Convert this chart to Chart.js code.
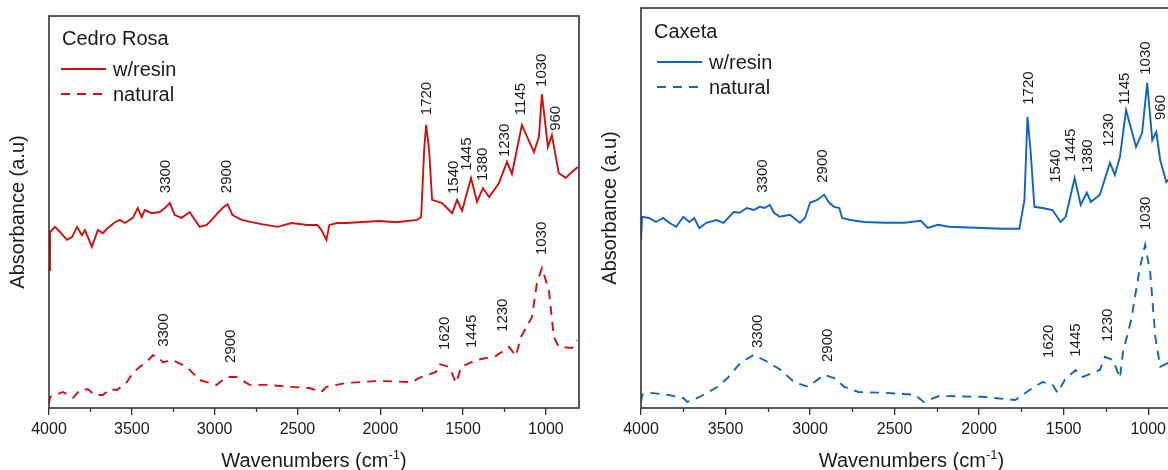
<!DOCTYPE html>
<html>
<head>
<meta charset="utf-8">
<script src="https://cdn.jsdelivr.net/npm/chart.js@4.4.0/dist/chart.umd.min.js"></script>
<style>
  html, body { margin: 0; padding: 0; background: #fff; }
  #contenedor { position: relative; width: 1168px; height: 470px; overflow: hidden; }
  #cedro { position: absolute; left: 0; top: 0; }
  #caxeta { position: absolute; left: 590px; top: 0; }
</style>
</head>
<body>
<div id="contenedor">
  <canvas id="cedro" width="590" height="470"></canvas>
  <canvas id="caxeta" width="610" height="470"></canvas>
</div>
<script>
// espectros (numero de onda en cm-1, absorbancia en u.a.)
const cedroResinaWn = [4000, 3994, 3964, 3934, 3892, 3861, 3831, 3801, 3783, 3741, 3705, 3675, 3645, 3602, 3572, 3542, 3494, 3464, 3440, 3422, 3380, 3331, 3301, 3271, 3241, 3199, 3151, 3120, 3090, 3048, 3018, 2982, 2952, 2922, 2892, 2837, 2777, 2717, 2620, 2536, 2440, 2380, 2355, 2325, 2307, 2259, 2205, 2006, 1904, 1777, 1753, 1735, 1723, 1705, 1687, 1627, 1566, 1536, 1506, 1452, 1416, 1380, 1343, 1283, 1235, 1205, 1145, 1072, 1042, 1024, 988, 964, 922, 880, 843, 807]
const cedroResina = [0.352, 0.449, 0.462, 0.449, 0.429, 0.436, 0.462, 0.441, 0.454, 0.411, 0.454, 0.446, 0.459, 0.474, 0.480, 0.472, 0.485, 0.510, 0.487, 0.505, 0.497, 0.500, 0.510, 0.523, 0.492, 0.485, 0.500, 0.480, 0.462, 0.467, 0.480, 0.497, 0.510, 0.520, 0.492, 0.480, 0.474, 0.469, 0.462, 0.472, 0.467, 0.467, 0.454, 0.429, 0.467, 0.472, 0.472, 0.477, 0.474, 0.480, 0.487, 0.658, 0.722, 0.658, 0.531, 0.523, 0.497, 0.531, 0.503, 0.587, 0.526, 0.561, 0.538, 0.574, 0.628, 0.597, 0.722, 0.653, 0.691, 0.801, 0.666, 0.696, 0.599, 0.587, 0.602, 0.615]

const cedroNaturalWn = [4000, 3994, 3916, 3855, 3813, 3765, 3723, 3675, 3633, 3590, 3530, 3494, 3452, 3410, 3373, 3343, 3313, 3253, 3169, 3090, 2988, 2928, 2867, 2789, 2687, 2548, 2428, 2355, 2325, 2205, 2006, 1807, 1765, 1663, 1645, 1584, 1542, 1512, 1422, 1301, 1223, 1181, 1151, 1084, 1054, 1024, 982, 952, 922, 843, 813]
const cedroNatural = [0.010, 0.028, 0.041, 0.026, 0.046, 0.048, 0.033, 0.033, 0.048, 0.046, 0.066, 0.089, 0.105, 0.117, 0.135, 0.130, 0.117, 0.122, 0.105, 0.071, 0.059, 0.079, 0.079, 0.059, 0.059, 0.054, 0.051, 0.041, 0.054, 0.064, 0.069, 0.066, 0.077, 0.092, 0.112, 0.105, 0.064, 0.105, 0.122, 0.133, 0.156, 0.133, 0.181, 0.232, 0.319, 0.357, 0.301, 0.181, 0.156, 0.153, 0.173]

const caxetaResinaWn = [4000, 3994, 3952, 3911, 3869, 3833, 3792, 3750, 3714, 3685, 3655, 3613, 3554, 3512, 3452, 3417, 3375, 3333, 3298, 3268, 3238, 3214, 3179, 3119, 3060, 3030, 3000, 2958, 2917, 2887, 2857, 2827, 2810, 2762, 2679, 2560, 2441, 2345, 2304, 2244, 2179, 1982, 1863, 1762, 1732, 1714, 1696, 1673, 1625, 1566, 1518, 1488, 1435, 1399, 1363, 1339, 1286, 1226, 1197, 1167, 1131, 1072, 1036, 1006, 976, 952, 929, 893, 863, 822, 800]
const caxetaResina = [0.420, 0.478, 0.475, 0.465, 0.475, 0.463, 0.453, 0.478, 0.465, 0.475, 0.450, 0.463, 0.470, 0.463, 0.490, 0.488, 0.500, 0.495, 0.503, 0.500, 0.508, 0.488, 0.478, 0.483, 0.463, 0.475, 0.513, 0.520, 0.533, 0.513, 0.503, 0.500, 0.475, 0.470, 0.465, 0.463, 0.463, 0.468, 0.450, 0.458, 0.453, 0.450, 0.448, 0.448, 0.520, 0.728, 0.645, 0.503, 0.500, 0.495, 0.465, 0.478, 0.575, 0.508, 0.538, 0.515, 0.533, 0.613, 0.583, 0.628, 0.745, 0.653, 0.688, 0.813, 0.670, 0.690, 0.620, 0.565, 0.578, 0.590, 0.595]

const caxetaNaturalWn = [4000, 3994, 3946, 3845, 3750, 3726, 3667, 3607, 3548, 3488, 3411, 3333, 3250, 3173, 3095, 3012, 2917, 2857, 2798, 2714, 2560, 2381, 2327, 2238, 1982, 1786, 1702, 1625, 1566, 1536, 1494, 1429, 1387, 1286, 1256, 1208, 1167, 1149, 1101, 1048, 1018, 988, 958, 929, 881, 822]
const caxetaNatural = [0.015, 0.033, 0.038, 0.033, 0.025, 0.015, 0.025, 0.038, 0.053, 0.075, 0.113, 0.133, 0.115, 0.095, 0.065, 0.053, 0.083, 0.075, 0.053, 0.040, 0.038, 0.033, 0.015, 0.030, 0.028, 0.020, 0.045, 0.065, 0.058, 0.038, 0.070, 0.095, 0.078, 0.095, 0.128, 0.120, 0.075, 0.140, 0.220, 0.353, 0.408, 0.338, 0.178, 0.103, 0.113, 0.120]

// etiquetas de picos: texto, posicion (cm-1) y altura del pie de la etiqueta
const picosResina = ['3300', '2900', '1720', '1540', '1445', '1380', '1230', '1145', '1030', '960']
const picosNatural = ['3300', '2900', '1620', '1445', '1230', '1030']
const cedroPicosResinaWn = [3295, 2928, 1717, 1554, 1476, 1380, 1247, 1151, 1024, 940]
const cedroPicosResinaY = [0.548, 0.548, 0.747, 0.546, 0.605, 0.579, 0.640, 0.747, 0.819, 0.707]
const cedroPicosNaturalWn = [3307, 2904, 1608, 1446, 1259, 1024]
const cedroPicosNaturalY = [0.156, 0.115, 0.148, 0.153, 0.194, 0.390]
const caxetaPicosResinaWn = [3280, 2923, 1703, 1548, 1458, 1357, 1232, 1137, 1012, 923]
const caxetaPicosResinaY = [0.538, 0.563, 0.758, 0.563, 0.615, 0.588, 0.653, 0.758, 0.833, 0.720]
const caxetaPicosNaturalWn = [3310, 2893, 1589, 1429, 1238, 1012]
const caxetaPicosNaturalY = [0.150, 0.115, 0.125, 0.128, 0.165, 0.445]

// marcas del eje X
const ticksMayores = [4000, 3500, 3000, 2500, 2000, 1500, 1000]
const ticksMenores = [3750, 3250, 2750, 2250, 1750, 1250]

const FUENTE = '"Liberation Sans", Arial, sans-serif'
const TEXTO = '#1a1a1a'
const MARCO = '#333333'

const aPuntos = (wn, valores) => wn.map((x, i) => ({ x, y: valores[i] }))

const armarPicos = (textos, wn, alturas) => textos.map((texto, i) => ({ texto, wn: wn[i], y: alturas[i] }))

// plugin que dibuja marco, leyenda interna, etiquetas de picos y titulos de ejes
const decoracion = {
    id: 'decoracion',
    afterDatasetsDraw(chart, args, opts) {
        const ctx = chart.ctx
        const { left, top, right, bottom } = chart.chartArea
        const escalaX = chart.scales.x
        const escalaY = chart.scales.y
        ctx.save()

        // marco
        ctx.strokeStyle = MARCO
        ctx.lineWidth = 1.6
        ctx.setLineDash([])
        ctx.strokeRect(left, top, right - left, bottom - top)

        // ticks menores
        ctx.lineWidth = 1.3
        ticksMenores.forEach(v => {
            const px = Math.round(escalaX.getPixelForValue(v)) + 0.5
            ctx.beginPath()
            ctx.moveTo(px, bottom)
            ctx.lineTo(px, bottom + 4)
            ctx.stroke()
        })

        // titulo y leyenda
        ctx.fillStyle = TEXTO
        ctx.font = `20px ${FUENTE}`
        ctx.textBaseline = 'middle'
        ctx.textAlign = 'left'
        ctx.fillText(opts.titulo, left + 13, top + opts.dy + 23)

        const lx = left + opts.dx
        const filas = [['w/resin', [], top + opts.dy + 53], ['natural', [9, 7], top + opts.dy + 78]]
        filas.forEach(([texto, dash, fy]) => {
            ctx.strokeStyle = opts.color
            ctx.lineWidth = 2
            ctx.setLineDash(dash)
            ctx.beginPath()
            ctx.moveTo(lx, fy)
            ctx.lineTo(lx + 45, fy)
            ctx.stroke()
            ctx.setLineDash([])
            ctx.fillText(texto, lx + 52, fy + 1)
        })

        // etiquetas de picos (rotadas)
        ctx.font = `15px ${FUENTE}`
        opts.picos.forEach(p => {
            const px = escalaX.getPixelForValue(p.wn)
            const py = escalaY.getPixelForValue(p.y)
            ctx.save()
            ctx.translate(px, py)
            ctx.rotate(-Math.PI / 2)
            ctx.textAlign = 'left'
            ctx.textBaseline = 'middle'
            ctx.fillText(p.texto, 0, 0)
            ctx.restore()
        })

        // titulo eje Y
        ctx.font = `20px ${FUENTE}`
        ctx.save()
        ctx.translate(left - 31, (top + bottom) / 2)
        ctx.rotate(-Math.PI / 2)
        ctx.textAlign = 'center'
        ctx.textBaseline = 'middle'
        ctx.fillText('Absorbance (a.u)', 0, 0)
        ctx.restore()

        // titulo eje X con superindice
        const parte1 = 'Wavenumbers (cm'
        const sup = '-1'
        const parte2 = ')'
        ctx.font = `20px ${FUENTE}`
        const w1 = ctx.measureText(parte1).width
        const w3 = ctx.measureText(parte2).width
        ctx.font = `13px ${FUENTE}`
        const w2 = ctx.measureText(sup).width
        const total = w1 + w2 + w3
        const x0 = (left + right) / 2 - total / 2
        const base = 467
        ctx.textAlign = 'left'
        ctx.textBaseline = 'alphabetic'
        ctx.font = `20px ${FUENTE}`
        ctx.fillText(parte1, x0, base)
        ctx.font = `13px ${FUENTE}`
        ctx.fillText(sup, x0 + w1, base - 8)
        ctx.font = `20px ${FUENTE}`
        ctx.fillText(parte2, x0 + w1 + w2, base)

        ctx.restore()
    }
}

const crearEspectro = (canvasId, color, resina, natural, padding, deco) => {
    return new Chart(document.getElementById(canvasId), {
        type: 'line',
        data: {
            datasets: [
                {
                    label: 'w/resin',
                    data: resina,
                    borderColor: color,
                    borderWidth: 1.9,
                    pointRadius: 0,
                    tension: 0
                },
                {
                    label: 'natural',
                    data: natural,
                    borderColor: color,
                    borderWidth: 1.9,
                    borderDash: [9, 7],
                    pointRadius: 0,
                    tension: 0
                }
            ]
        },
        options: {
            responsive: false,
            animation: false,
            layout: { padding },
            plugins: {
                legend: { display: false },
                tooltip: { enabled: false },
                decoracion: deco
            },
            scales: {
                x: {
                    type: 'linear',
                    reverse: true,
                    min: 800,
                    max: 4000,
                    border: { display: false },
                    grid: {
                        display: true,
                        drawOnChartArea: false,
                        drawTicks: true,
                        tickLength: 7,
                        color: MARCO,
                        lineWidth: 1.3
                    },
                    ticks: {
                        autoSkip: false,
                        maxRotation: 0,
                        padding: 5,
                        color: TEXTO,
                        font: { size: 16, family: FUENTE },
                        callback: (valor) => String(valor)
                    },
                    afterBuildTicks: (escala) => {
                        escala.ticks = ticksMayores.map(v => ({ value: v }))
                    },
                    afterFit: (escala) => { escala.height = 62 }
                },
                y: {
                    display: false,
                    min: 0,
                    max: 1
                }
            }
        },
        plugins: [decoracion]
    })
}

crearEspectro('cedro', '#d01010',
    aPuntos(cedroResinaWn, cedroResina),
    aPuntos(cedroNaturalWn, cedroNatural),
    { left: 49, right: 11, top: 16, bottom: 0 },
    {
        titulo: 'Cedro Rosa',
        color: '#d01010',
        dx: 12,
        dy: 0,
        picos: armarPicos(picosResina, cedroPicosResinaWn, cedroPicosResinaY)
            .concat(armarPicos(picosNatural, cedroPicosNaturalWn, cedroPicosNaturalY))
    })

crearEspectro('caxeta', '#1064be',
    aPuntos(caxetaResinaWn, caxetaResina),
    aPuntos(caxetaNaturalWn, caxetaNatural),
    { left: 51, right: 18, top: 8, bottom: 0 },
    {
        titulo: 'Caxeta',
        color: '#1064be',
        dx: 16,
        dy: 1,
        picos: armarPicos(picosResina, caxetaPicosResinaWn, caxetaPicosResinaY)
            .concat(armarPicos(picosNatural, caxetaPicosNaturalWn, caxetaPicosNaturalY))
    })
</script>
</body>
</html>
